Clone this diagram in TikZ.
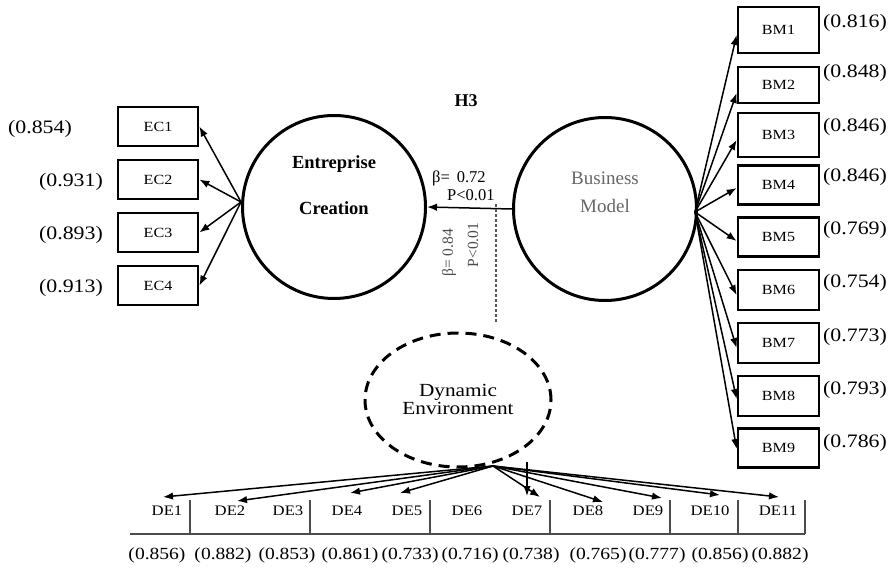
\documentclass[tikz,border=0pt]{standalone}
\usepackage{fontspec}
\setmainfont{Liberation Serif}
\newfontfamily\widefont[FakeStretch=1.15]{Liberation Serif}
\usetikzlibrary{arrows.meta,shapes.geometric}

\begin{document}
\begin{tikzpicture}[x=1pt,y=-1pt,
  indbox/.style={draw, line width=2.7pt, minimum width=80pt, minimum height=39pt,
    inner sep=0pt, font=\widefont\fontsize{14}{16}\selectfont},
  latent/.style={circle, draw, line width=3pt, minimum size=183pt, inner sep=0pt},
  load/.style={font=\widefont\fontsize{19}{21}\selectfont, inner sep=0pt},
  deload/.style={font=\widefont\fontsize{17}{19}\selectfont, inner sep=0pt},
  delabel/.style={font=\widefont\fontsize{14.5}{16}\selectfont, inner sep=0pt},
  path/.style={line width=1.5pt, -{Latex[length=10pt,width=7.5pt]}},
  rule/.style={line width=1.2pt, black!70}
]
\useasboundingbox (0,0) rectangle (893,569);

% latent constructs
\node[latent] (ec) at (334,207) {};
\node[font=\bfseries\fontsize{18.5}{20}\selectfont] at (334,164) {Entreprise};
\node[font=\bfseries\fontsize{18.5}{20}\selectfont] at (334,208) {Creation};

\node[latent] (bm) at (605,209) {};
\node[font=\fontsize{19}{20}\selectfont, text=black!60] at (605,178) {Business};
\node[font=\fontsize{19}{20}\selectfont, text=black!60] at (605,206) {Model};

\node[ellipse, draw, line width=3pt, dash pattern=on 11pt off 7pt,
  minimum width=186pt, minimum height=134pt, inner sep=0pt] (de) at (458,400) {};
\node[font=\widefont\fontsize{18.5}{20}\selectfont, align=center] at (458,399)
  {Dynamic\\[-2pt]Environment};

% hypothesis and coefficients
\node[font=\bfseries\fontsize{18}{19}\selectfont] (h3) at (466,101) {H3};
\node[font=\fontsize{16.5}{18}\selectfont, anchor=west, inner sep=0pt] (b1) at (432,178) {β=\, 0.72};
\node[font=\fontsize{16.5}{18}\selectfont, anchor=west, inner sep=0pt] (p1) at (447,195) {P<0.01};
\node[font=\fontsize{15.5}{17}\selectfont, text=black!70, rotate=90, inner sep=0pt] (b2) at (449,253) {β= 0.84};
\node[font=\fontsize{15.5}{17}\selectfont, text=black!70, rotate=90, inner sep=0pt] (p2) at (473,245) {P<0.01};

\draw[path] (bm.west) -- (ec.east);
\coordinate (mod) at (496,204);
\coordinate (modend) at (496,322);
\draw[line width=1.1pt, black!65, dash pattern=on 3pt off 2pt] (mod) -- (modend);

% Entreprise Creation indicators
\foreach \i/\y/\v/\vx in {1/126.5/0.854/40, 2/179.5/0.931/71, 3/232.5/0.893/71, 4/285.5/0.913/71}{
  \node[indbox] (ec\i) at (158,\y) {EC\i};
  \node[load] (ecv\i) at (\vx,\y+2) {(\v)};
}
\coordinate (ecsrc) at (241,202);
\foreach \i in {1,...,4}{ \draw[path] (ecsrc) -- (ec\i.east); }

% Business Model indicators
\foreach \i/\y/\h/\v/\vy in {1/30/46/0.816/23, 2/85/36/0.848/73, 3/135/44/0.846/127,
  4/185/39/0.846/177, 5/237/39/0.769/230, 6/290/40/0.754/283, 7/343/40/0.773/337,
  8/396/40/0.793/390, 9/448/39/0.786/443}{
  \node[indbox, minimum width=81pt, minimum height=\h pt] (bm\i) at (778.5,\y) {BM\i};
  \node[load, anchor=west] (bmv\i) at (823,\vy) {(\v)};
}
\coordinate (bmsrc) at (695,212);
\foreach \i/\dy in {1/-5, 2/-8, 3/-5, 4/-3, 5/-4, 6/-5, 7/-5, 8/-3, 9/-1}{
  \draw[path] (bmsrc) -- ([yshift=\dy pt]bm\i.west);
}

% Dynamic Environment indicators (table)
\draw[rule] (130,534) -- (805,534);
\foreach \x in {190,310,430,550,670,738,805}{
  \draw[rule] (\x,500) -- (\x,534);
}
\foreach \i/\x/\v/\vx in {1/167/0.856/157, 2/230/0.882/223, 3/288/0.853/287,
  4/347/0.861/350, 5/407/0.733/410, 6/467/0.716/470, 7/527/0.738/531,
  8/588/0.765/598, 9/648/0.777/657, 10/710/0.856/720, 11/778/0.882/780}{
  \node[delabel] (de\i) at (\x,511) {DE\i};
  \node[deload] (dev\i) at (\vx,555) {(\v)};
}
\coordinate (desrc) at (493,466);
\foreach \i/\x/\y in {1/163/497, 2/237/501, 4/350/493, 5/400/493, 7/540/497,
  8/603/502, 9/662/498, 10/720/495, 11/779/497}{
  \coordinate (t\i) at (\x,\y);
  \draw[path] (desrc) -- (t\i);
}
\coordinate (v7) at (527,462);
\coordinate (v7end) at (527,496);
\draw[path] (v7) -- (v7end);
\end{tikzpicture}
\end{document}
